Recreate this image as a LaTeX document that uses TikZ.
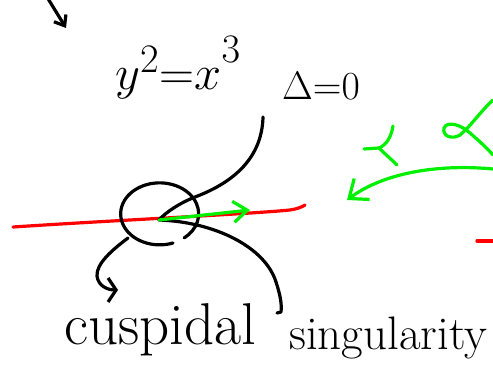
\documentclass[tikz,border=0pt]{standalone}
\usetikzlibrary{arrows.meta}
\definecolor{pengreen}{RGB}{0,240,0}
\definecolor{penred}{RGB}{255,0,0}
\begin{document}
\begin{tikzpicture}[x=1pt,y=1pt,
  ink/.style={line width=3.2pt,line cap=round,line join=round},
  inkblack/.style={ink,black},
  inkred/.style={ink,penred},
  inkgreen/.style={ink,pengreen},
  lbl/.style={inner sep=0pt,anchor=base west}]
\useasboundingbox (0,0) rectangle (493,382);
% text
\node[lbl,font=\Huge] (eq) at (115,292) {\scalebox{1.95}{$y^2{=}x^{\raisebox{5pt}{$\scriptstyle 3$}}$}};
\node[lbl,font=\Huge] (delta) at (282,282) {\scalebox{1.6}{$\Delta{=}0$}};
\node[lbl,font=\fontsize{59}{66}\selectfont] (cusp) at (64,37) {cuspidal};
\node[lbl,font=\fontsize{47}{56}\selectfont] (sing) at (289,32) {singularity};
% coordinates
\coordinate (C) at (159,162);
\coordinate (tlA) at (47,385);
\coordinate (tlB) at (66,354);
\coordinate (dTop) at (263,265);
\coordinate (cuspTip) at (118,92);
\coordinate (circBL) at (128,144);
\coordinate (singEnd) at (281,70);
\coordinate (gTip) at (250,172);
\coordinate (bigStart) at (493,213);
\coordinate (bigTip) at (347,182);
% top-left arrow
\draw[inkblack,-{Straight Barb[length=9pt,width=14pt]}] (tlA) -- (tlB);
% red curve
\draw[inkred] (13,155) .. controls (120,162) and (250,168) .. (290,172)
  .. controls (297,173) and (302,175) .. (305,177);
\draw[inkred] (477,141) -- (493,141);
% circle
\draw[inkblack] (173,139) arc[start angle=-70,end angle=-411,x radius=39,y radius=31];
% pointer to cuspidal
\draw[inkblack,-{Straight Barb[length=8pt,width=24pt]}] (circBL)
  .. controls (112,132) and (96,118) .. (97,106)
  .. controls (98,96) and (108,92) .. (cuspTip);
% curve from Delta=0 to centre
\draw[inkblack] (dTop) .. controls (262,225) and (235,200) .. (195,185)
  .. controls (180,179) and (166,170) .. (C);
% curve from centre to singularity
\draw[inkblack] (C) .. controls (215,160) and (265,135) .. (276,100)
  .. controls (280,88) and (282,78) .. (singEnd) -- (277,69);
% green tangent arrow
\draw[inkgreen,-{Straight Barb[length=14pt,width=21pt]}] (C) -- (gTip);
% big green arrow
\draw[inkgreen,-{Straight Barb[length=16pt,width=26pt]}] (bigStart)
  .. controls (440,218) and (385,210) .. (bigTip);
% green cusp sketch
\draw[inkgreen] (393,256) .. controls (391,244) and (386,237) .. (379,234)
  .. controls (385,228) and (392,222) .. (397,217);
\draw[inkgreen] (364,233) -- (379,234);
% green nodal sketch
\draw[inkgreen] (493,282) .. controls (480,270) and (470,255) .. (460,247)
  .. controls (452,242) and (442,246) .. (444,254)
  .. controls (447,261) and (460,258) .. (470,249)
  .. controls (478,242) and (486,235) .. (493,227);
\end{tikzpicture}
\end{document}
